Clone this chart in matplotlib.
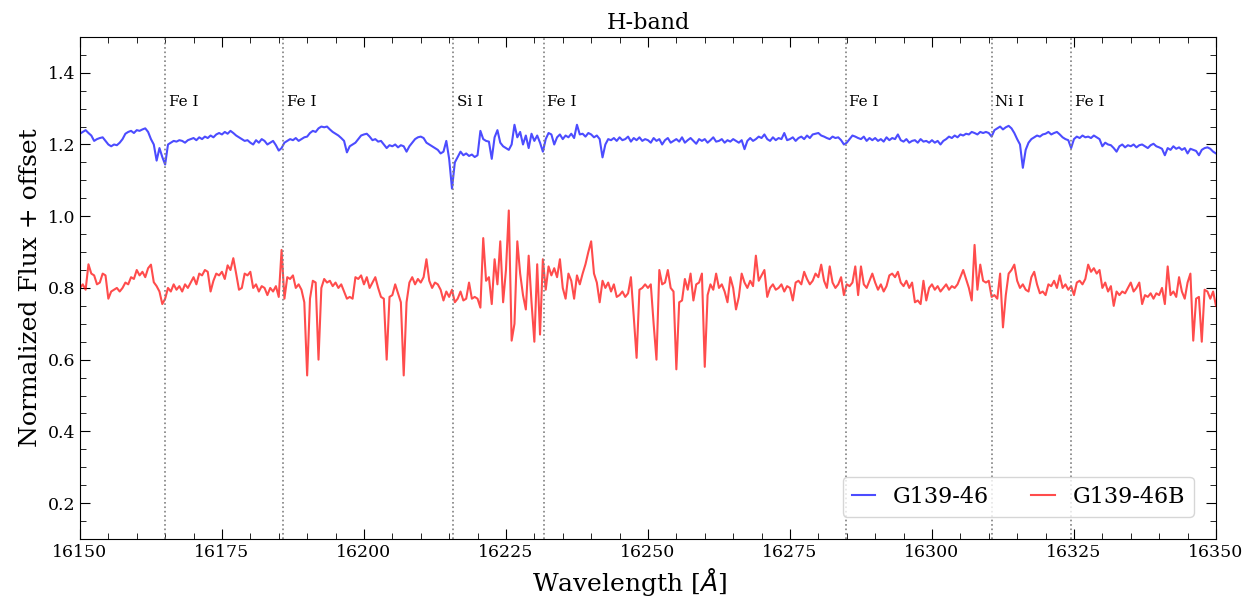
import numpy as np
import matplotlib
matplotlib.use("Agg")
import matplotlib.pyplot as plt
from matplotlib.ticker import MultipleLocator

plt.rcParams['font.family'] = ['DejaVu Serif']

# wavelength grid of the spectra (0.5 A sampling)
wave_start = 16150.0
wave_step = 0.5

flux_g139_46 = [
    1.23, 1.235, 1.24, 1.232, 1.225, 1.21, 1.215, 1.218, 1.22, 1.21, 1.2, 1.195, 1.2, 1.198, 1.205, 1.215, 1.23, 1.235, 1.238, 1.232,
    1.24, 1.238, 1.242, 1.245, 1.235, 1.215, 1.2, 1.155, 1.19, 1.165, 1.144, 1.2, 1.205, 1.21, 1.208, 1.212, 1.21, 1.205, 1.212, 1.215,
    1.218, 1.212, 1.22, 1.215, 1.222, 1.218, 1.225, 1.22, 1.228, 1.232, 1.228, 1.235, 1.23, 1.238, 1.232, 1.225, 1.22, 1.215, 1.21, 1.212,
    1.205, 1.2, 1.212, 1.205, 1.215, 1.21, 1.2, 1.205, 1.21, 1.198, 1.183, 1.19, 1.205, 1.21, 1.215, 1.212, 1.218, 1.21, 1.215, 1.22,
    1.222, 1.232, 1.238, 1.235, 1.245, 1.25, 1.248, 1.25, 1.242, 1.235, 1.23, 1.225, 1.218, 1.21, 1.178, 1.195, 1.2, 1.205, 1.215, 1.225,
    1.228, 1.23, 1.222, 1.212, 1.215, 1.208, 1.21, 1.2, 1.19, 1.198, 1.195, 1.2, 1.192, 1.198, 1.195, 1.18, 1.195, 1.205, 1.215, 1.22,
    1.222, 1.218, 1.205, 1.2, 1.195, 1.19, 1.185, 1.175, 1.18, 1.21, 1.16, 1.077, 1.15, 1.165, 1.18, 1.17, 1.175, 1.168, 1.172, 1.165,
    1.17, 1.238, 1.215, 1.21, 1.208, 1.16, 1.22, 1.24, 1.205, 1.195, 1.19, 1.185, 1.2, 1.255, 1.22, 1.235, 1.2, 1.225, 1.19, 1.23,
    1.21, 1.225, 1.205, 1.18, 1.215, 1.232, 1.228, 1.2, 1.22, 1.228, 1.215, 1.225, 1.22, 1.23, 1.218, 1.255, 1.228, 1.23, 1.222, 1.232,
    1.228, 1.22, 1.225, 1.215, 1.164, 1.2, 1.215, 1.212, 1.218, 1.21, 1.22, 1.212, 1.215, 1.222, 1.208, 1.218, 1.212, 1.22, 1.21, 1.215,
    1.212, 1.205, 1.218, 1.21, 1.215, 1.2, 1.212, 1.218, 1.205, 1.21, 1.215, 1.208, 1.22, 1.205, 1.212, 1.218, 1.21, 1.202, 1.215, 1.21,
    1.215, 1.205, 1.212, 1.22, 1.208, 1.21, 1.215, 1.205, 1.212, 1.208, 1.215, 1.21, 1.205, 1.212, 1.187, 1.21, 1.218, 1.21, 1.215, 1.222,
    1.218, 1.228, 1.215, 1.21, 1.22, 1.212, 1.218, 1.215, 1.232, 1.212, 1.215, 1.22, 1.21, 1.218, 1.222, 1.215, 1.225, 1.218, 1.228, 1.23,
    1.232, 1.225, 1.222, 1.218, 1.215, 1.222, 1.218, 1.22, 1.212, 1.2, 1.205, 1.215, 1.225, 1.222, 1.218, 1.215, 1.222, 1.21, 1.218, 1.212,
    1.218, 1.21, 1.215, 1.208, 1.22, 1.212, 1.218, 1.215, 1.228, 1.212, 1.208, 1.215, 1.205, 1.21, 1.212, 1.205, 1.215, 1.208, 1.21, 1.205,
    1.212, 1.205, 1.21, 1.2, 1.21, 1.215, 1.222, 1.218, 1.225, 1.22, 1.228, 1.225, 1.23, 1.228, 1.235, 1.232, 1.228, 1.235, 1.232, 1.235,
    1.232, 1.222, 1.24, 1.245, 1.25, 1.242, 1.248, 1.252, 1.245, 1.232, 1.215, 1.2, 1.135, 1.185, 1.205, 1.215, 1.22, 1.225, 1.222, 1.228,
    1.23, 1.235, 1.228, 1.232, 1.235, 1.228, 1.22, 1.215, 1.212, 1.19, 1.215, 1.222, 1.218, 1.225, 1.22, 1.222, 1.218, 1.225, 1.22, 1.215,
    1.195, 1.205, 1.2, 1.198, 1.19, 1.18, 1.195, 1.2, 1.192, 1.198, 1.195, 1.2, 1.192, 1.198, 1.2, 1.195, 1.19, 1.198, 1.202, 1.195,
    1.192, 1.188, 1.17, 1.19, 1.185, 1.195, 1.188, 1.192, 1.185, 1.19, 1.175, 1.188, 1.185, 1.182, 1.17, 1.185, 1.19, 1.192, 1.188, 1.18,
    1.175,
]

flux_g139_46b = [
    0.80, 0.81, 0.795, 0.866, 0.84, 0.835, 0.81, 0.815, 0.84, 0.835, 0.77, 0.79, 0.795, 0.80, 0.79, 0.80, 0.815, 0.81, 0.83, 0.825,
    0.85, 0.835, 0.845, 0.83, 0.855, 0.865, 0.816, 0.805, 0.79, 0.755, 0.77, 0.80, 0.79, 0.81, 0.795, 0.805, 0.79, 0.81, 0.80, 0.815,
    0.83, 0.81, 0.84, 0.835, 0.85, 0.845, 0.79, 0.82, 0.84, 0.835, 0.845, 0.825, 0.863, 0.85, 0.883, 0.84, 0.795, 0.80, 0.84, 0.835,
    0.845, 0.80, 0.81, 0.79, 0.805, 0.80, 0.78, 0.80, 0.79, 0.805, 0.775, 0.906, 0.77, 0.83, 0.825, 0.835, 0.80, 0.81, 0.795, 0.76,
    0.556, 0.77, 0.82, 0.815, 0.60, 0.80, 0.825, 0.815, 0.82, 0.805, 0.815, 0.80, 0.81, 0.79, 0.77, 0.775, 0.77, 0.83, 0.825, 0.835,
    0.81, 0.83, 0.80, 0.815, 0.83, 0.80, 0.775, 0.77, 0.60, 0.775, 0.78, 0.81, 0.785, 0.76, 0.556, 0.76, 0.815, 0.83, 0.81, 0.825,
    0.815, 0.83, 0.88, 0.82, 0.80, 0.815, 0.81, 0.795, 0.765, 0.79, 0.775, 0.795, 0.76, 0.77, 0.79, 0.765, 0.77, 0.815, 0.77, 0.775,
    0.77, 0.745, 0.939, 0.82, 0.83, 0.755, 0.88, 0.81, 0.93, 0.76, 0.85, 1.016, 0.653, 0.70, 0.93, 0.84, 0.78, 0.74, 0.89, 0.76,
    0.65, 0.866, 0.67, 0.88, 0.795, 0.86, 0.835, 0.855, 0.83, 0.88, 0.80, 0.77, 0.84, 0.82, 0.77, 0.835, 0.81, 0.84, 0.866, 0.90,
    0.93, 0.84, 0.815, 0.76, 0.82, 0.80, 0.815, 0.79, 0.81, 0.775, 0.78, 0.79, 0.775, 0.785, 0.83, 0.72, 0.605, 0.795, 0.80, 0.81,
    0.80, 0.81, 0.70, 0.60, 0.85, 0.81, 0.815, 0.85, 0.80, 0.79, 0.573, 0.76, 0.765, 0.825, 0.795, 0.84, 0.765, 0.81, 0.815, 0.84,
    0.58, 0.78, 0.81, 0.795, 0.84, 0.80, 0.81, 0.79, 0.76, 0.83, 0.80, 0.74, 0.775, 0.84, 0.815, 0.80, 0.82, 0.805, 0.89, 0.82,
    0.835, 0.85, 0.775, 0.80, 0.81, 0.795, 0.80, 0.81, 0.79, 0.805, 0.80, 0.765, 0.815, 0.82, 0.81, 0.845, 0.825, 0.81, 0.82, 0.84,
    0.83, 0.865, 0.82, 0.80, 0.86, 0.815, 0.80, 0.81, 0.83, 0.78, 0.81, 0.805, 0.815, 0.86, 0.78, 0.86, 0.81, 0.80, 0.82, 0.84,
    0.815, 0.795, 0.81, 0.79, 0.805, 0.835, 0.84, 0.83, 0.845, 0.815, 0.805, 0.82, 0.80, 0.815, 0.76, 0.765, 0.755, 0.82, 0.765, 0.80,
    0.81, 0.795, 0.805, 0.79, 0.80, 0.81, 0.795, 0.805, 0.80, 0.81, 0.83, 0.85, 0.825, 0.80, 0.765, 0.92, 0.795, 0.865, 0.82, 0.815,
    0.82, 0.775, 0.78, 0.77, 0.84, 0.69, 0.78, 0.84, 0.85, 0.865, 0.82, 0.80, 0.81, 0.795, 0.79, 0.83, 0.845, 0.81, 0.785, 0.79,
    0.78, 0.81, 0.805, 0.82, 0.80, 0.835, 0.80, 0.81, 0.795, 0.805, 0.78, 0.815, 0.82, 0.81, 0.825, 0.865, 0.845, 0.855, 0.84, 0.85,
    0.80, 0.815, 0.79, 0.805, 0.75, 0.79, 0.78, 0.79, 0.785, 0.80, 0.815, 0.79, 0.80, 0.815, 0.755, 0.78, 0.775, 0.785, 0.77, 0.785,
    0.78, 0.80, 0.755, 0.86, 0.78, 0.79, 0.775, 0.83, 0.79, 0.77, 0.815, 0.84, 0.653, 0.77, 0.775, 0.65, 0.795, 0.79, 0.77, 0.79,
    0.75,
]

line_waves = [16165.0, 16185.8, 16215.7, 16231.7, 16284.8, 16310.5, 16324.5]
line_names = ["Fe I", "Fe I", "Si I", "Fe I", "Fe I", "Ni I", "Fe I"]


def main():
    wave = wave_start + wave_step * np.arange(len(flux_g139_46))

    fig = plt.figure(figsize=(12.55, 6.02), dpi=100)
    ax = fig.add_axes([0.0637, 0.1047, 0.9052, 0.834])

    ax.plot(wave, flux_g139_46, color='blue', alpha=0.7, lw=1.5, label='G139-46')
    ax.plot(wave, flux_g139_46b, color='red', alpha=0.7, lw=1.5, label='G139-46B')

    for w, name in zip(line_waves, line_names):
        ax.axvline(w, color='gray', ls=':', lw=1.2)
        ax.text(w + 0.6, 1.3, name, fontsize=11, va='bottom', ha='left')

    ax.set_xlim(16150, 16350)
    ax.set_ylim(0.1, 1.5)
    ax.xaxis.set_major_locator(MultipleLocator(25))
    ax.xaxis.set_minor_locator(MultipleLocator(5))
    ax.yaxis.set_major_locator(MultipleLocator(0.2))
    ax.yaxis.set_minor_locator(MultipleLocator(0.05))
    ax.tick_params(which='both', direction='in', top=True, right=True, labelsize=12.5)
    ax.tick_params(which='major', length=7)
    ax.tick_params(which='minor', length=4)

    ax.set_xlabel(r'Wavelength [$\AA$]', fontsize=18, x=0.484)
    ax.set_ylabel('Normalized Flux + offset', fontsize=18)
    ax.set_title('H-band', fontsize=16)
    ax.legend(loc='lower right', ncol=2, fontsize=16, handlelength=1.05,
              columnspacing=1.9, borderaxespad=1.0)

    fig.savefig('out.png', dpi=100)


if __name__ == "__main__":
    main()
